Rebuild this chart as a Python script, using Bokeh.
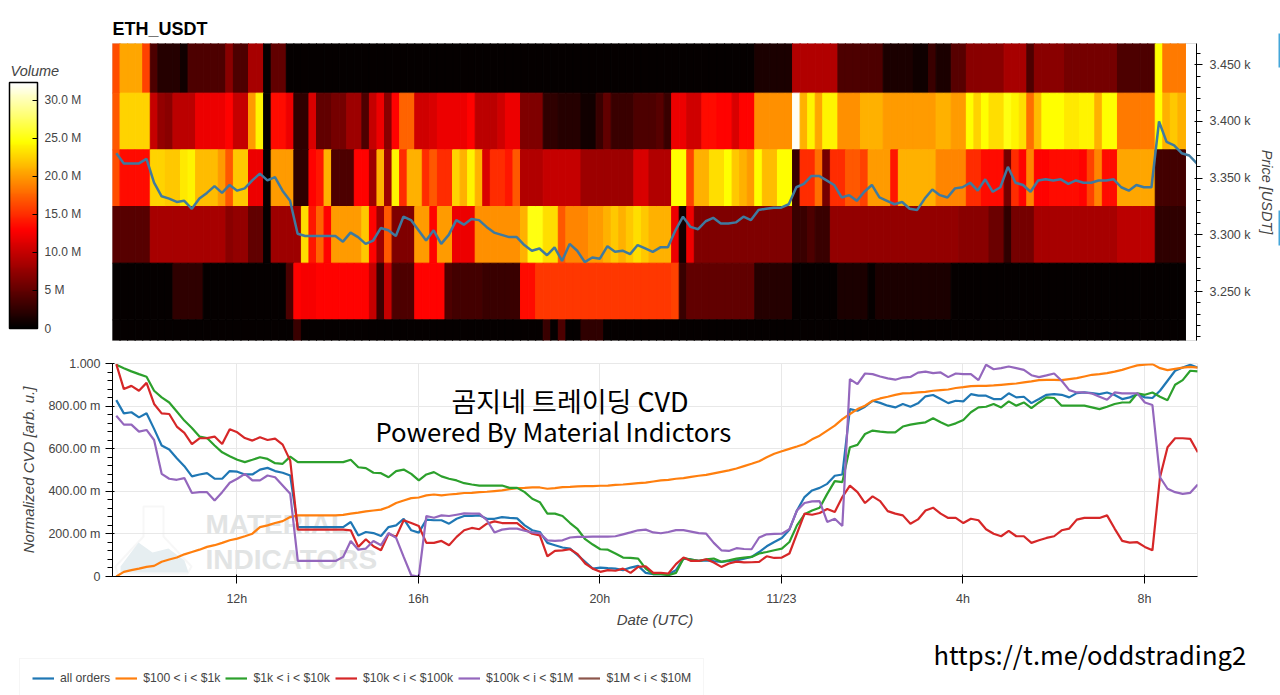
from bokeh.embed import file_html
from bokeh.resources import INLINE
from bokeh.plotting import figure
from bokeh.layouts import column, row
from bokeh.models import (ColumnDataSource, LinearColorMapper, ColorBar, FixedTicker, Label,
                          Legend, LegendItem, PolyAnnotation, BoxAnnotation)
from bokeh.transform import transform

# ---- heatmap volume by price bin (million USDT), 142 ten-minute columns ----
vol_3450 = [16.5]+[20.5]*3+[16,4]+[2]*3+[1]+[4]*5+[7]+[4]*2+[8.5]*2+[0.3]+[5]*2+[0.3]*62+[1.5]*5+[9]*6+[4]*6+[1.5]*4+[0.8]*2+[3]+[1.5]*2+[4.5]*2+[7]*5+[8.5]*3+[4]+[7]*4+[6]*7+[4]*5+[24.5]+[18.5]*3
vol_3400 = [17]+[22.5]*4+[10,7.5,7]+[9.5]*3+[12]*4+[13]+[10]*2+[20,24,0.3]+[13.5]*2+[12]+[2.5]*2+[11]+[5]*2+[6]*2+[8]*2+[4,10,12,7,13]+[17.5]*2+[10.5]*2+[11]+[12]*4+[13]+[9.5]*3+[10.5]+[12]*2+[6.5]*3+[2.5]*2+[2]*3+[1]*2+[3,5]+[3]*3+[4]*3+[4.5,3]+[12]*2+[10.5]*2+[13.5]*2+[13]*2+[11]+[13]*2+[19.5]*5+[32,21,24,20.5]+[24]*2+[19.5]*3+[21]*3+[20]*7+[21]*2+[20]*2+[24.5,22.5,24.5]+[23]*2+[25,24,23,18,21.5]+[24.5]*3+[23.5]*2+[24]*2+[21]+[24.5]*2+[18.5]*5+[24.5,21,22,21]
vol_3350 = [16.5]+[13.5]*4+[22.5]*2+[22]*2+[23.5,24]+[21.5]*3+[20,17]+[22]*2+[12]*2+[0.3]+[20]*3+[2.5]*2+[13,14,21]+[4]*3+[13]*2+[8,21,8,24,15]+[21]*2+[15,17]+[15]*2+[22.5,21,24,21,11]+[15]*2+[14,17]+[9]*3+[10]*5+[8]*7+[11]*2+[9]*3+[24.5]*2+[16]+[21]*2+[23]*2+[24.5,22,21,20,24.5]+[21.5]*2+[24.5]*2+[3]+[15]*2+[18,6]+[15]*2+[17]*2+[16]+[20]*3+[14]+[21]*5+[19]*4+[15]*2+[13.5]*3+[6,15,13,19]+[13]*2+[13.5]*4+[13,16,19]+[13.5]*2+[20.5]*5+[3.5]*4
vol_3300 = [4.5]*5+[8.5]*10+[7]+[7.5]*2+[5]*2+[0.3]+[8]*4+[23,14,17.5,13]+[20]*4+[22,13,8,17]+[6.5]*3+[20]*2+[13]+[20]*2+[12]*3+[19.5]*6+[21]+[25]*2+[23]*2+[17]+[19]*3+[20,20,21,22,21,22,23,22,21,21,21,12,1,12]+[6.5]*13+[3]*2+[4]+[3]*2+[7.5]*17+[7]*4+[5.5]*2+[2.5]+[6]*3+[8.5]*11+[9.5]*5+[2.5]*4
vol_3250 = [0.3]*8+[2.5]*4+[0.3]*11+[4,13]+[12.5]*2+[13]*7+[10,3,10]+[4]*3+[13]*4+[4]+[3.5]*4+[3]*5+[13.5]*2+[15.5]*18+[16,3]+[5]*9+[2]*5+[0.3]*6+[1.5]*4+[0.3]+[1.5]*10+[0.3]*31
vol_3200 = [0.3]*24+[3]+[0.3]*32+[3,0.3,4,0.3,0.3,2.5,2.5,2.5]+[0.3]*77
price_bins = [3450, 3400, 3350, 3300, 3250, 3200]

# ---- price and normalised CVD, 144 ten-minute samples ----
price = [3372,3363,3363,3363,3367,3346,3334,3332,3329,3330,3323,3332,3337,3343,3337,3344,3339,3341,3348,3354,3348,3351,3339,3330,3301,3299,3299,3299,3299,3299,3294,3302,3298,3292,3295,3306,3304,3299,3316,3313,3304,3295,
 3304,3292,3300,3313,3309,3314,3313,3307,3302,3300,3298,3298,3291,3286,3288,3282,3289,3277,3292,3286,3276,3280,3279,3290,3285,3286,3283,3291,3288,3285,3289,3289,3304,3316,3307,3305,3312,3315,3310,3310,3311,3316,3313,3322,3323,3324,3324,3327,3342,3345,3352,3352,3348,3344,3333,3335,
 3330,3338,3344,3333,3330,3327,3329,3323,3322,3332,3340,3335,3333,3341,3342,3346,3339,3349,3338,3342,3360,3346,3344,3338,3348,3349,3348,3349,3345,3348,3346,3346,3348,3348,3349,3342,3339,3344,3342,3342,3400,3382,3379,3372,3370,3363]
cvd_all = [828,766,771,747,766,693,615,596,555,518,470,479,485,459,459,495,492,479,479,502,510,495,487,474,232,232,232,232,232,232,232,256,193,209,204,190,232,240,271,217,206,267,
 264,264,248,271,284,284,287,271,271,279,275,273,240,217,209,158,147,136,131,100,69,37,42,39,37,30,42,50,17,11,11,11,30,84,80,73,76,72,69,73,76,84,92,115,142,162,181,220,310,373,404,416,435,473,479,786,
 778,797,825,815,802,794,810,797,813,846,852,833,814,825,822,856,849,849,833,833,860,841,844,814,833,853,856,853,841,861,864,861,856,864,852,833,841,856,841,838,872,919,966,981,994,981]
cvd_100_1k = [0,22,30,37,45,50,69,80,89,104,115,126,139,147,158,170,178,189,201,232,240,251,260,279,287,287,287,287,287,287,289,295,300,306,310,314,326,345,357,368,371,381,
 385,381,385,388,392,393,396,398,401,404,410,415,416,418,418,412,415,420,421,423,424,424,426,427,430,432,435,438,441,446,451,454,459,462,468,473,477,484,491,498,507,518,529,541,560,576,588,599,610,622,644,661,685,708,739,763,
 786,802,825,836,844,853,860,861,864,867,872,875,878,885,889,894,895,895,897,900,903,906,911,916,922,923,923,922,927,931,939,947,950,955,962,970,981,991,995,997,978,969,975,981,984,981]
cvd_1k_10k = [994,978,963,950,938,872,841,817,775,732,697,657,650,615,583,565,548,537,548,560,552,532,529,563,537,537,537,537,537,537,537,548,513,509,487,485,466,495,502,482,451,479,
 490,470,459,451,438,432,427,427,427,427,416,416,396,365,349,295,295,284,251,222,175,150,128,126,108,89,87,84,37,11,11,6,17,86,80,73,80,84,69,76,84,89,92,108,115,123,131,162,240,292,310,323,388,448,443,607,
 618,669,685,680,677,677,704,713,719,724,743,724,708,719,735,771,794,797,810,794,822,802,817,791,817,841,838,802,802,802,802,794,786,797,810,817,817,860,853,864,844,828,900,922,966,963]
cvd_10k_100k = [997,880,895,872,909,810,766,763,704,674,622,649,650,657,622,691,677,650,638,654,641,647,619,544,220,220,220,220,220,220,220,217,139,175,142,123,201,186,264,251,237,158,
 158,167,147,186,217,228,222,248,259,251,251,251,222,201,193,95,120,123,128,105,61,37,22,30,27,37,17,45,48,17,17,14,58,89,73,73,81,66,45,61,70,66,67,69,95,87,89,108,201,295,290,298,317,303,373,427,
 396,345,376,354,307,295,287,248,268,310,323,295,275,275,251,271,264,222,201,189,214,189,189,158,170,181,189,217,225,267,275,275,275,287,225,167,159,161,139,123,466,607,649,649,646,583]
cvd_100k_1m = [755,713,713,680,688,641,482,459,454,462,392,396,396,357,396,440,459,482,451,451,474,466,427,388,73,73,73,73,73,73,92,167,126,131,167,147,204,181,92,6,0,284,
 276,287,284,290,296,295,295,264,207,220,225,225,215,207,203,170,167,170,183,186,186,187,187,187,189,198,207,217,220,207,203,209,218,218,211,204,201,158,123,120,133,129,128,183,198,200,201,222,310,345,353,354,256,271,237,927,
 903,953,950,939,930,924,934,937,957,962,955,958,936,953,950,950,922,994,973,978,986,978,970,945,936,944,953,919,875,864,864,859,844,830,864,860,860,860,817,805,466,412,396,388,393,432]

series_names = ["all orders", "$100 < i < $1k", "$1k < i < $10k", "$10k < i < $100k", "$100k < i < $1M", "$1M < i < $10M"]
series_colors = ["#1f77b4", "#ff7f0e", "#2ca02c", "#d62728", "#9467bd", "#8c564b"]
# the $1M < i < $10M series has no visible trace in the reference: only its legend entry
series_values = [cvd_all, cvd_100_1k, cvd_1k_10k, cvd_10k_100k, cvd_100k_1m]

time_ticks = [12, 16, 20, 24, 28, 32]
time_labels = ["12h", "16h", "20h", "11/23", "4h", "8h"]
cvd_ticks = [0, 200, 400, 600, 800, 1000]
cvd_labels = ["0", "200.00 m", "400.00 m", "600.00 m", "800.00 m", "1.000"]
price_ticks = [3250, 3300, 3350, 3400, 3450]
price_labels = ["3.250 k", "3.300 k", "3.350 k", "3.400 k", "3.450 k"]
vol_ticks = [0, 5, 10, 15, 20, 25, 30]
vol_labels = ["0", "5 M", "10.0 M", "15.0 M", "20.0 M", "25.0 M", "30.0 M"]

for r in (vol_3450, vol_3400, vol_3350, vol_3300, vol_3250, vol_3200):
    assert len(r) == 142, len(r)
for r in (price, cvd_all, cvd_100_1k, cvd_1k_10k, cvd_10k_100k, cvd_100k_1m):
    assert len(r) == 144, len(r)

T0, T1 = 9.26, 33.17
STEP = 1 / 6
FONT = "Liberation Sans"
TXT = "#444444"
CJK = "Noto Sans CJK KR"


def hot(n=256):
    out = []
    for i in range(n):
        t = i / (n - 1)
        r = min(1, t / 0.40)
        g = min(1, max(0, (t - 0.40) / 0.36))
        b = min(1, max(0, (t - 0.76) / 0.24))
        out.append("#%02x%02x%02x" % (int(r * 255), int(g * 255), int(b * 255)))
    return out


W = 1280
LEFT_W = 100
EDGE_W = 3
xr = (T0, T1)
mapper = LinearColorMapper(palette=hot(), low=0, high=32.3)

# ---- colour bar strip ----
p0 = figure(width=LEFT_W, height=350, x_range=(0, LEFT_W), y_range=(0, 350), toolbar_location=None,
            output_backend="svg", x_axis_type=None, y_axis_type=None, min_border=0, outline_line_color=None)
p0.grid.visible = False
cb = ColorBar(color_mapper=mapper, width=28, height=246, location=(9, 12), padding=0,
              ticker=FixedTicker(ticks=vol_ticks), major_label_overrides=dict(zip(vol_ticks, vol_labels)),
              major_label_text_font=FONT,
              major_label_text_font_size="12px", major_label_text_color=TXT, label_standoff=7,
              major_tick_in=5, major_tick_out=0, major_tick_line_color="#000000", minor_tick_line_color=None,
              bar_line_color="#000000", bar_line_width=1.5, background_fill_alpha=0, border_line_color=None)
p0.add_layout(cb, "center")
p0.add_layout(Label(x=10, y=270, x_units="screen", y_units="screen", text="Volume", text_font=FONT,
                    text_font_size="14.5px", text_font_style="italic", text_color=TXT, text_baseline="middle"))

# ---- top panel ----
p1 = figure(width=W - LEFT_W - EDGE_W, height=350, x_range=xr, y_range=(3206.8, 3468.8), y_axis_location="right",
            toolbar_location=None, output_backend="svg", min_border_left=112 - LEFT_W, min_border_right=83 - EDGE_W,
            min_border_top=43, min_border_bottom=10, title="ETH_USDT")
p1.title.text_font = FONT
p1.title.text_font_size = "18px"
p1.title.text_color = "#000000"
p1.title.offset = 0
p1.title.standoff = 10
p1.xaxis.visible = False
p1.grid.visible = False
p1.outline_line_color = "#dddddd"

left, right, bottom, top, vol = [], [], [], [], []
for b, r in zip(price_bins, (vol_3450, vol_3400, vol_3350, vol_3300, vol_3250, vol_3200)):
    for i, v in enumerate(r):
        left.append(T0 + i * STEP)
        right.append(T0 + (i + 1) * STEP)
        bottom.append(b - 25)
        top.append(b + 25)
        vol.append(v)
p1.quad(left="left", right="right", bottom="bottom", top="top",
        source=ColumnDataSource(dict(left=left, right=right, bottom=bottom, top=top, vol=vol)),
        fill_color=transform("vol", mapper), line_color=transform("vol", mapper), line_width=1)
t_line = [T0 + (k + 0.5) * STEP for k in range(144)]
p1.line(t_line, price, line_color="#3f7a9f", line_width=2.5)

ax = p1.yaxis[0]
ax.ticker = FixedTicker(ticks=price_ticks, minor_ticks=[v for v in range(3210, 3470, 10)])
ax.major_label_overrides = dict(zip(price_ticks, price_labels))
ax.axis_label = "Price [USDT]"
ax.axis_label_text_font = FONT
ax.axis_label_text_font_size = "14.5px"
ax.axis_label_text_font_style = "italic"
ax.axis_label_text_color = TXT
ax.axis_label_standoff = 5
ax.major_label_text_font = FONT
ax.major_label_text_font_size = "12.5px"
ax.major_label_text_color = TXT
ax.major_label_standoff = 7
ax.major_tick_in = 2
ax.major_tick_out = 6
ax.minor_tick_in = 0
ax.minor_tick_out = 4
ax.axis_line_color = "#000000"
ax.major_tick_line_color = "#000000"
ax.minor_tick_line_color = "#000000"

# ---- clipped blue marks on the right edge of the screenshot ----
pe = figure(width=EDGE_W, height=350, toolbar_location=None, output_backend="svg", x_axis_type=None,
            y_axis_type=None, min_border=0, outline_line_color=None)
pe.grid.visible = False
for y0, y1 in ((283, 317), (105, 140)):
    pe.add_layout(BoxAnnotation(left=1, right=EDGE_W, bottom=y0, top=y1, left_units="screen", right_units="screen",
                                bottom_units="screen", top_units="screen", fill_color="#44a6d9", fill_alpha=1,
                                line_color=None))

# ---- bottom panel ----
p2 = figure(width=W, height=280, x_range=p1.x_range, y_range=(0, 1000), toolbar_location=None,
            output_backend="svg", min_border_left=112, min_border_right=83, min_border_top=13, min_border_bottom=54)
p2.outline_line_color = "#e8e8e8"
p2.xgrid.grid_line_color = "#e8e8e8"
p2.ygrid.grid_line_color = "#e8e8e8"

# watermark
p2.add_layout(PolyAnnotation(xs=[31, 51, 51, 79, 75, 5, 3, 31], ys=[70, 70, 40, 10, 3, 3, 10, 40],
                             xs_units="screen", ys_units="screen", fill_color="#ffffff", fill_alpha=0,
                             line_color="#e3e6e6", line_width=2, level="underlay"))
p2.add_layout(PolyAnnotation(xs=[8, 26, 40, 56, 72, 76, 8], ys=[10, 34, 24, 28, 16, 4, 4],
                             xs_units="screen", ys_units="screen", fill_color="#e6eef1", fill_alpha=1,
                             line_color=None, level="underlay"))
for txt, yy in (("MATERIAL", 52), ("INDICATORS", 17)):
    p2.add_layout(Label(x=93, y=yy, x_units="screen", y_units="screen", text=txt, text_font=FONT,
                        text_font_style="bold", text_font_size="28px", text_color="#e2e4e4", text_baseline="middle",
                        level="underlay"))

for color, vals in zip(series_colors, series_values):
    p2.line(t_line, vals, line_color=color, line_width=2.2)

ax = p2.yaxis[0]
ax.ticker = FixedTicker(ticks=cvd_ticks, minor_ticks=[v for v in range(0, 1001, 40)])
ax.major_label_overrides = dict(zip(cvd_ticks, cvd_labels))
ax.axis_label = "Normalized CVD [arb. u.]"
ax2 = p2.xaxis[0]
ax2.ticker = FixedTicker(ticks=time_ticks)
ax2.major_label_overrides = dict(zip(time_ticks, time_labels))
ax2.axis_label = "Date (UTC)"
for a in (ax, ax2):
    a.axis_label_text_font = FONT
    a.axis_label_text_font_size = "15px"
    a.axis_label_text_font_style = "italic"
    a.axis_label_text_color = TXT
    a.major_label_text_font = FONT
    a.major_label_text_font_size = "12.5px"
    a.major_label_text_color = TXT
    a.major_tick_in = 2
    a.major_tick_out = 7
    a.minor_tick_in = 0
    a.minor_tick_out = 5
    a.axis_line_color = "#000000"
    a.major_tick_line_color = "#000000"
    a.minor_tick_line_color = "#000000"
ax2.minor_tick_line_color = None
ax2.major_label_standoff = 8
ax2.axis_label_standoff = 2
ax.axis_label_standoff = 8
ax.major_label_standoff = 5

for txt, x, y, size in (("곰지네 트레이딩 CVD", 339, 176, "27px"),
                        ("Powered By Material Indictors", 263, 146, "25.7px")):
    p2.add_layout(Label(x=x, y=y, x_units="screen", y_units="screen", text=txt, text_font=CJK,
                        text_font_size=size, text_color="#000000", text_baseline="middle"))

# ---- legend strip ----
p3 = figure(width=W, height=65, x_range=(0, W), y_range=(0, 65), toolbar_location=None, output_backend="svg",
            x_axis_type=None, y_axis_type=None, min_border=0, outline_line_color=None)
p3.grid.visible = False
items = []
for name, color in zip(series_names, series_colors):
    r = p3.line([float("nan")] * 2, [float("nan")] * 2, line_color=color, line_width=2.2)
    items.append(LegendItem(label=name, renderers=[r]))
leg = Legend(items=items, orientation="horizontal", location=(19, -3), glyph_width=22, glyph_height=14,
             label_standoff=6, spacing=5, padding=12, margin=0, border_line_color="#eeeeee",
             label_text_font=FONT, label_text_font_size="12.2px", label_text_color=TXT,
             background_fill_alpha=1)
p3.add_layout(leg, "center")
p3.add_layout(Label(x=933, y=42, x_units="screen", y_units="screen", text="https://t.me/oddstrading2", text_font=CJK,
                    text_font_size="25.6px", text_color="#000000", text_baseline="middle"))

page = column(row(p0, p1, column(pe), spacing=0), p2, row(p3), spacing=0)
open("out.html", "w").write(file_html(page, INLINE))
